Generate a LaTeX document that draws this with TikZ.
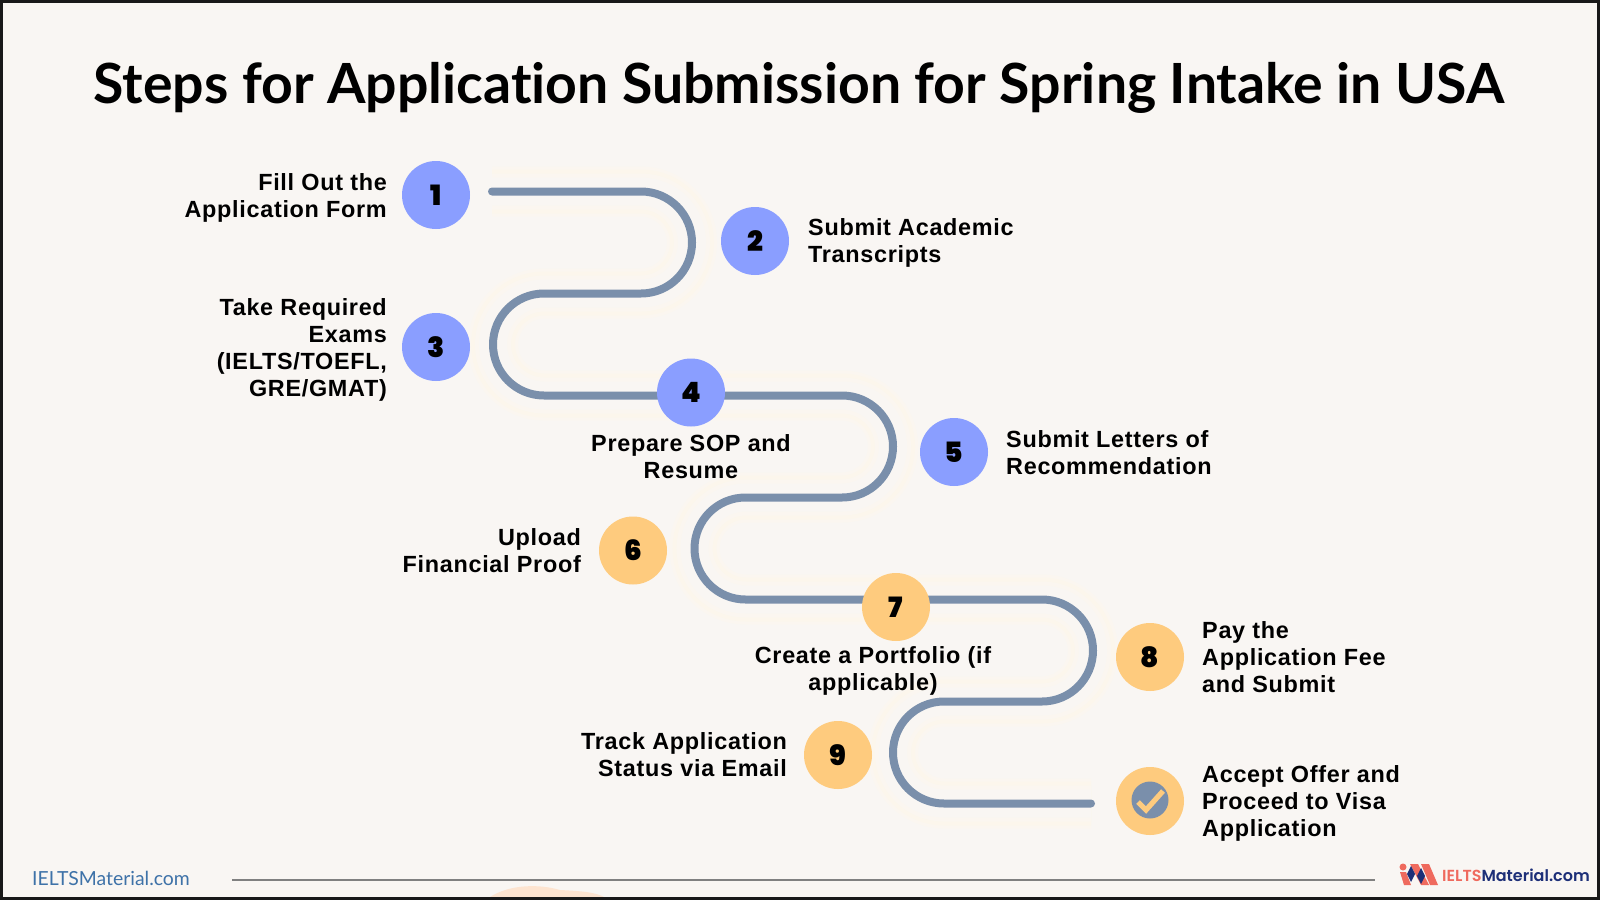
\documentclass[tikz,border=0pt]{standalone}
\usepackage{fontspec}
\setmainfont{Liberation Sans}
\newfontfamily\titlefont{Lato}[UprightFont=* Bold,Ligatures=NoCommon]
\newfontfamily\labelfont{Liberation Sans}[UprightFont=* Bold,LetterSpace=3]
\newfontfamily\numfont{Poppins}[UprightFont=* Black]
\newfontfamily\footfont{Lato}
\newfontfamily\logofont{Poppins}[UprightFont=* SemiBold]
\definecolor{bgc}{HTML}{F9F6F3}
\definecolor{halo}{HTML}{FBF6F0}
\definecolor{halob}{HTML}{FCF6EC}
\definecolor{blueC}{HTML}{8A9EFF}
\definecolor{orangeC}{HTML}{FECB7E}
\definecolor{pathC}{HTML}{7A8FAB}
\definecolor{footC}{HTML}{3E72A8}
\definecolor{coral}{HTML}{EF6A5E}
\definecolor{navy}{HTML}{1D2F78}
\definecolor{blobC}{HTML}{FDE4D0}
\tikzset{
 x=1pt,y=-1pt,
 numcircle/.style={circle,minimum size=68pt,inner sep=0pt,font=\numfont\fontsize{28}{28}\selectfont,text=black},
 bluec/.style={numcircle,fill=blueC},
 orangec/.style={numcircle,fill=orangeC},
 lab/.style={inner sep=0pt,font=\labelfont\fontsize{23.4}{27}\selectfont,text=black},
 labl/.style={lab,anchor=west,align=left},
 labr/.style={lab,anchor=east,align=right},
 labc/.style={lab,anchor=center,align=center},
 road/.style={rounded corners=51pt}
}
\begin{document}
\begin{tikzpicture}
\useasboundingbox (0,0) rectangle (1600,900);
\fill[bgc] (0,0) rectangle (1600,900);
\fill[blobC] (490,897) .. controls (510,884) and (540,884) .. (560,890) .. controls (580,891) and (595,892) .. (604,897) -- cycle;
\coordinate (s) at (492,191.5);
\coordinate (e) at (1091,803.5);
\def\roadpath{(s) -- (692,191.5) -- (692,293.5) -- (493,293.5) -- (493,395.5) -- (893,395.5) -- (893,497.5) -- (694.5,497.5) -- (694.5,599.5) -- (1093,599.5) -- (1093,701.5) -- (893,701.5) -- (893,803.5) -- (e)}
\draw[road,halo,line width=50pt] \roadpath;
\draw[road,halob,line width=44pt] \roadpath;
\draw[road,halo,line width=36pt] \roadpath;
\draw[road,bgc,line width=28pt] \roadpath;
\draw[road,pathC,line width=8pt,line cap=round] \roadpath;
\node[inner sep=0pt,font=\titlefont\fontsize{55.4}{55}\selectfont,text=black] (title) at (799,88) {Steps for Application Submission for Spring Intake in USA};
\node[bluec] (n1) at (436,195) {1};
\node[bluec] (n2) at (755,241) {2};
\node[bluec] (n3) at (436,347) {3};
\node[bluec] (n4) at (691,392.5) {4};
\node[bluec] (n5) at (954,452) {5};
\node[orangec] (n6) at (633,550.5) {6};
\node[orangec] (n7) at (896,607) {7};
\node[orangec] (n8) at (1150,657) {8};
\node[orangec] (n9) at (838,755) {9};
\node[orangec] (n10) at (1150,801) {};
\fill[pathC] (1150,800) circle (18.5pt);
\draw[orangeC,line width=5.2pt] (1138,802) -- (1146,810) -- (1163,791);
\node[labr] (l1) at (387,197.5) {Fill Out the\\Application Form};
\node[labl] (l2) at (808,243) {Submit Academic\\Transcripts};
\node[labr] (l3) at (387,350) {Take Required\\Exams\\(IELTS/TOEFL,\\GRE/GMAT)};
\node[labc] (l4) at (691,457) {Prepare SOP and\\Resume};
\node[labl] (l5) at (1006,453) {Submit Letters of\\Recommendation};
\node[labr] (l6) at (581,551) {Upload\\Financial Proof};
\node[labc] (l7) at (873,670.5) {Create a Portfolio (if\\applicable)};
\node[labl] (l8) at (1202,657) {Pay the\\Application Fee\\and Submit};
\node[labr] (l9) at (787,755) {Track Application\\Status via Email};
\node[labl] (l10) at (1202,803) {Accept Offer and\\Proceed to Visa\\Application};
\node[inner sep=0pt,anchor=base west,font=\footfont\fontsize{19.4}{19.4}\selectfont,text=footC] (foot) at (32,885) {IELTSMaterial.com};
\coordinate (ruleA) at (232,880);
\coordinate (ruleB) at (1375,880);
\draw[black!50,line width=1.3pt] (ruleA) -- (ruleB);
\fill[coral] (1403,867) circle (3.5pt);
\fill[coral] (1400,872) -- (1406,872) -- (1411,885) -- (1404,885) -- cycle;
\fill[coral] (1410,864) -- (1418,864) -- (1429,885) -- (1421,885) -- cycle;
\fill[coral] (1421,864) -- (1429,864) -- (1438,885) -- (1430,885) -- cycle;
\fill[navy] (1411,866) -- (1415,874) -- (1411,882) -- (1407,874) -- cycle;
\fill[navy] (1421,868) -- (1425,876) -- (1421,884) -- (1417,876) -- cycle;
\node[inner sep=0pt,anchor=base west,font=\logofont\fontsize{16}{16}\selectfont] (logo) at (1442,881) {\textcolor{coral}{IELTS}\textcolor{navy}{Material.com}};
\draw[black!90,line width=3pt] (0,1) -- (1600,1);
\draw[black!90,line width=3pt] (1.5,0) -- (1.5,900);
\draw[black!90,line width=3pt] (1598.5,0) -- (1598.5,900);
\draw[black!90,line width=3pt] (0,898) -- (1600,898);
\end{tikzpicture}
\end{document}
